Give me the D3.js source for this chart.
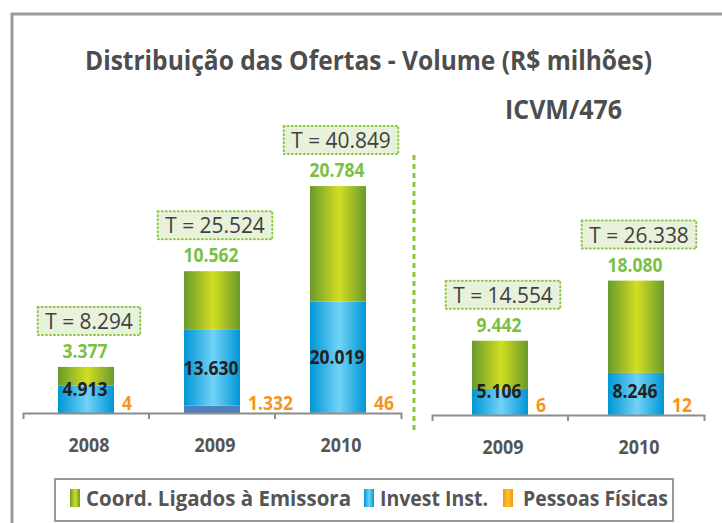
<!doctype html>
<html>
  <head>
    <meta charset="utf-8">
    <script src="https://cdnjs.cloudflare.com/ajax/libs/d3/7.8.5/d3.min.js"></script>
    <style>
      body { margin: 0; background: #fff; }
      svg { display: block; font-family: "Open Sans", "Noto Sans", sans-serif; }
    </style>
  </head>
  <body>
    <svg id="chart" width="722" height="523"></svg>
    <script>
        var titleText = "Distribuição das Ofertas - Volume (R$ milhões)";
        var subTitleText = "ICVM/476";
        var seriesNames = ["Coord. Ligados à Emissora", "Invest Inst.", "Pessoas Físicas"];

        // left panel (all offers)
        var leftYears = ["2008", "2009", "2010"];
        var leftCoord = [3377, 10562, 20784];
        var leftInst = [4913, 13630, 20019];
        var leftPF = [4, 1332, 46];

        // right panel (ICVM/476)
        var rightYears = ["2009", "2010"];
        var rightCoord = [9442, 18080];
        var rightInst = [5106, 8246];
        var rightPF = [6, 12];

        var br = d3.formatLocale({decimal: ",", thousands: ".", grouping: [3], currency: ["R$", ""]});
        var fmt = br.format(",d");

        // the original font is narrower than Open Sans, so squeeze a bit
        function squeeze(sel, k) {
            sel.each(function() {
                var w = this.getComputedTextLength();
                d3.select(this).attr("textLength", w * k).attr("lengthAdjust", "spacingAndGlyphs");
            });
        }

        var svg = d3.select("#chart");
        var defs = svg.append("defs");

        function hGradient(id, edge, mid) {
            var g = defs.append("linearGradient").attr("id", id)
                .attr("x1", 0).attr("x2", 1).attr("y1", 0).attr("y2", 0);
            g.append("stop").attr("offset", "0%").attr("stop-color", edge);
            g.append("stop").attr("offset", "52%").attr("stop-color", mid);
            g.append("stop").attr("offset", "100%").attr("stop-color", edge);
        }
        hGradient("gGreen", "#6a9a2c", "#d2de22");
        hGradient("gBlue", "#0096d6", "#72d2f6");
        hGradient("gOrange", "#f7941d", "#ffc425");

        // outer frame
        svg.append("path")
            .attr("d", "M12,523V14H722")
            .style("fill", "none")
            .style("stroke", "#9a9a9a")
            .style("stroke-width", 3);

        svg.append("text")
            .attr("x", 85).attr("y", 70)
            .attr("textLength", 567).attr("lengthAdjust", "spacingAndGlyphs")
            .style("font-size", "26px").style("font-weight", "bold").style("fill", "#4d4d4d")
            .text(titleText);

        svg.append("text")
            .attr("x", 505).attr("y", 119)
            .attr("textLength", 117).attr("lengthAdjust", "spacingAndGlyphs")
            .style("font-size", "27px").style("font-weight", "bold").style("fill", "#4d4d4d")
            .text(subTitleText);

        // separator between panels
        svg.append("line")
            .attr("x1", 414).attr("x2", 414).attr("y1", 155).attr("y2", 432)
            .style("stroke", "#8dc63f").style("stroke-width", 3)
            .style("stroke-dasharray", "5,4");

        function drawPanel(years, coord, inst, pf, x0, x1, base, unitsPerPx) {
            var x = d3.scaleBand().domain(years).range([x0, x1]);
            var y = d3.scaleLinear().domain([0, 50000]).range([base, base - 50000 / unitsPerPx]);
            var bw = 56;

            var rows = years.map((yr, i) => ({year: yr, pf: pf[i], inst: inst[i], coord: coord[i]}));
            var stack = d3.stack().keys(["pf", "inst", "coord"])(rows);
            var fills = {pf: "#4f81c0", inst: "url(#gBlue)", coord: "url(#gGreen)"};

            var g = svg.append("g");
            var cx = d => x(d.data.year) + x.bandwidth() / 2;

            stack.forEach(layer => {
                g.selectAll(null)
                    .data(layer)
                    .enter()
                    .append("rect")
                        .attr("x", d => cx(d) - bw / 2)
                        .attr("width", bw)
                        .attr("y", d => y(d[1]))
                        .attr("height", d => y(d[0]) - y(d[1]))
                        .style("fill", fills[layer.key]);
            });

            var instLayer = stack[1], coordLayer = stack[2];

            // green value above each bar
            g.selectAll(null).data(coordLayer).enter().append("text")
                .attr("x", d => cx(d) - 1).attr("y", d => y(d[1]) - 9)
                .attr("text-anchor", "middle")
                .style("font-size", "19px").style("font-weight", "bold").style("fill", "#7ac143")
                .text(d => fmt(d.data.coord))
                .call(squeeze, 0.92);

            // invest inst. value inside blue segment
            g.selectAll(null).data(instLayer).enter().append("text")
                .attr("x", d => cx(d) - 1)
                .attr("y", d => Math.min((y(d[0]) + y(d[1])) / 2, base - 24) + 7)
                .attr("text-anchor", "middle")
                .style("font-size", "19px").style("font-weight", "bold").style("fill", "#231f20")
                .text(d => fmt(d.data.inst))
                .call(squeeze, 0.92);

            // pessoas fisicas value right of bar
            g.selectAll(null).data(stack[0]).enter().append("text")
                .attr("x", d => cx(d) + bw / 2 + 8).attr("y", base - 3)
                .style("font-size", "19px").style("font-weight", "bold").style("fill", "#f7941d")
                .text(d => fmt(d.data.pf))
                .call(squeeze, 0.92);

            // total boxes
            var tb = g.selectAll(null).data(coordLayer).enter().append("g")
                .attr("transform", d => "translate(" + (cx(d) + 3) + "," + (y(d[1]) - 60) + ")");
            tb.append("text")
                .attr("text-anchor", "middle").attr("y", 22)
                .style("font-size", "22px").style("fill", "#404040")
                .text(d => "T = " + fmt(d[1]))
                .call(squeeze, 0.95);
            tb.insert("rect", "text")
                .each(function() {
                    var w = +this.parentNode.querySelector("text").getAttribute("textLength") + 15;
                    d3.select(this).attr("x", -w / 2).attr("width", w);
                })
                .attr("y", 0).attr("height", 28)
                .style("fill", "#e8f1da")
                .style("stroke", "#8dc63f").style("stroke-width", 2)
                .style("stroke-dasharray", "1,3").style("stroke-linecap", "round");

            // axis
            var axis = d3.axisBottom(x).tickSizeInner(0).tickSizeOuter(6).tickPadding(26);
            var ax = svg.append("g").attr("transform", "translate(0," + base + ")").call(axis);
            ax.select(".domain").style("stroke", "#8c8c8c").style("stroke-width", 2);
            ax.selectAll(".tick text")
                .attr("dx", 3)
                .style("font-size", "19px").style("font-weight", "bold").style("fill", "#555")
                .style("font-family", "'Open Sans', sans-serif")
                .call(squeeze, 0.94);
            ax.selectAll(null).data(years.slice(1)).enter().append("line")
                .attr("x1", d => x(d)).attr("x2", d => x(d)).attr("y1", 0).attr("y2", 6)
                .style("stroke", "#8c8c8c").style("stroke-width", 2);
        }

        drawPanel(leftYears, leftCoord, leftInst, leftPF, 23, 401, 413, 180);
        drawPanel(rightYears, rightCoord, rightInst, rightPF, 432, 704, 415, 196);

        // legend
        var lg = svg.append("g");
        lg.append("rect")
            .attr("x", 55).attr("y", 479).attr("width", 618).attr("height", 42)
            .style("fill", "#fff").style("stroke", "#9a9a9a").style("stroke-width", 2);
        var swatches = ["url(#gGreen)", "url(#gBlue)", "url(#gOrange)"];
        var swatchX = [70, 364, 503];
        var textW = [265, 108, 145];
        seriesNames.forEach((name, i) => {
            lg.append("rect")
                .attr("x", swatchX[i]).attr("y", 489).attr("width", 10).attr("height", 18)
                .style("fill", swatches[i]);
            lg.append("text")
                .attr("x", swatchX[i] + (i == 2 ? 20 : 16)).attr("y", 506)
                .attr("textLength", textW[i]).attr("lengthAdjust", "spacingAndGlyphs")
                .style("font-size", "22px").style("font-weight", "bold").style("fill", "#555")
                .text(name);
        });
    </script>
  </body>
</html>
